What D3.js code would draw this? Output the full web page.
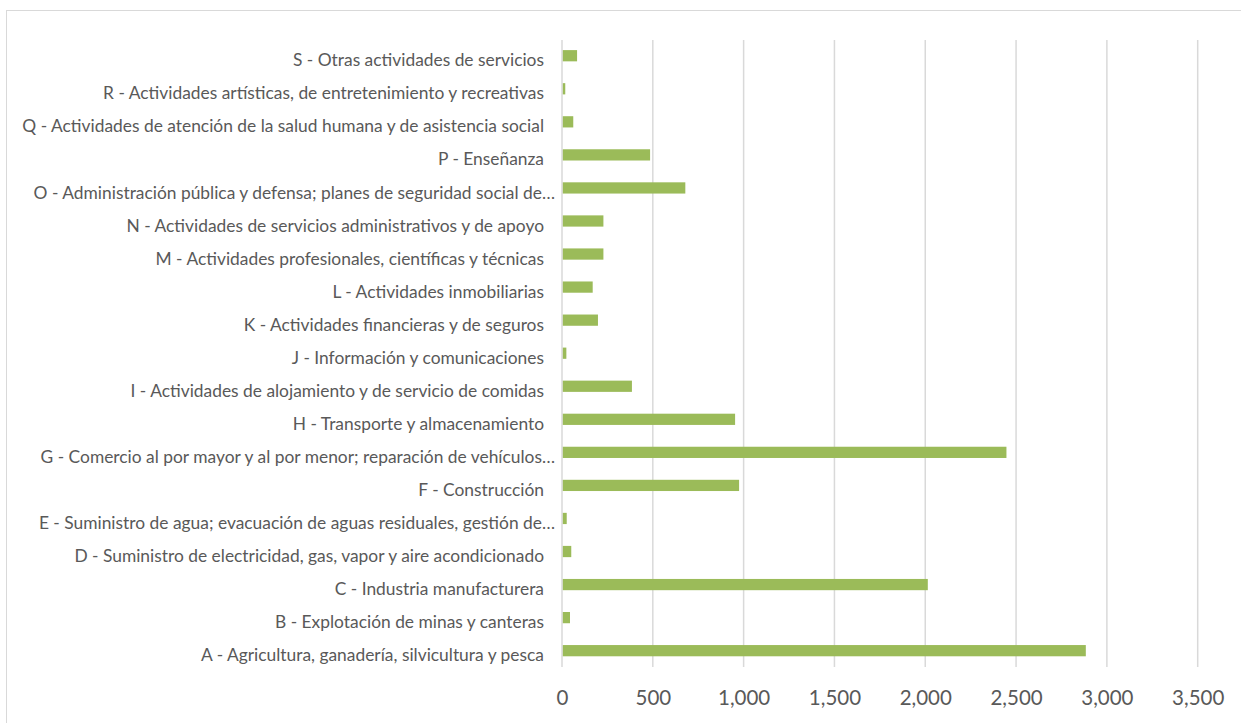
<!DOCTYPE html>
<html>
<head>
<meta charset="utf-8">
<script src="https://cdn.jsdelivr.net/npm/d3@7"></script>
<style>
  html, body { margin: 0; padding: 0; background: #fff; }
  svg { display: block; }
  text { font-family: Lato, "Open Sans", sans-serif; fill: #595959; }
</style>
</head>
<body>
<svg id="chart" width="1241" height="723"></svg>
<script>
// Categories, bottom (A) to top (S)
const categories = [
  "A - Agricultura, ganadería, silvicultura y pesca",
  "B - Explotación de minas y canteras",
  "C - Industria manufacturera",
  "D - Suministro de electricidad, gas, vapor y aire acondicionado",
  "E - Suministro de agua; evacuación de aguas residuales, gestión de…",
  "F - Construcción",
  "G - Comercio al por mayor y al por menor; reparación de vehículos…",
  "H - Transporte y almacenamiento",
  "I - Actividades de alojamiento y de servicio de comidas",
  "J - Información y comunicaciones",
  "K - Actividades financieras y de seguros",
  "L - Actividades inmobiliarias",
  "M - Actividades profesionales, científicas y técnicas",
  "N - Actividades de servicios administrativos y de apoyo",
  "O - Administración pública y defensa; planes de seguridad social de…",
  "P - Enseñanza",
  "Q - Actividades de atención de la salud humana y de asistencia social",
  "R - Actividades artísticas, de entretenimiento y recreativas",
  "S - Otras actividades de servicios"
];
const values = [2884, 44, 2014, 51, 26, 975, 2447, 953, 385, 24, 198, 169, 228, 228, 679, 485, 62, 18, 83];
const xTicks = [0, 500, 1000, 1500, 2000, 2500, 3000, 3500];

const data = categories.map((c, i) => ({ cat: c, value: values[i] }));

const svg = d3.select("#chart");

// outer chart border
svg.append("rect")
  .attr("x", 6.5).attr("y", 10.5)
  .attr("width", 1260).attr("height", 740)
  .attr("fill", "none").attr("stroke", "#d9d9d9").attr("stroke-width", 1);

const x = d3.scaleLinear().domain([0, 3500]).range([562, 1197.7]);
const y = d3.scaleBand()
  .domain(categories.slice().reverse())
  .range([39.2, 667.2])
  .paddingInner(0.66)
  .paddingOuter(0.33);

// gridlines
svg.append("g").selectAll("line")
  .data(xTicks)
  .join("line")
  .attr("x1", d => x(d)).attr("x2", d => x(d))
  .attr("y1", 40).attr("y2", 667)
  .attr("stroke", "#d9d9d9").attr("stroke-width", 1.5);

// bars
svg.append("g").selectAll("rect")
  .data(data)
  .join("rect")
  .attr("x", x(0) + 0.8)
  .attr("y", d => y(d.cat))
  .attr("width", d => x(d.value) - x(0) - 0.8)
  .attr("height", y.bandwidth())
  .attr("fill", "#9bbb59");

// x axis tick labels
const xAxis = d3.axisBottom(x).tickValues(xTicks).tickSize(0).tickPadding(0)
  .tickFormat(d3.format(","));
const gx = svg.append("g").attr("transform", "translate(0,690)").call(xAxis);
gx.select(".domain").remove();
gx.selectAll("text")
  .attr("dy", "0.32em").attr("y", 8)
  .style("font-size", "20.5px").style("fill", "#595959")
  .style("font-family", "Lato, 'Open Sans', sans-serif");

// category labels
const labelSize = 15.2;
const gy = svg.append("g");
gy.selectAll("text")
  .data(data)
  .join("text")
  .attr("x", d => d.cat.endsWith("…") ? 555 : 544)
  .attr("y", d => y(d.cat) + y.bandwidth() / 2 + 4.5)
  .attr("dy", "0.35em")
  .attr("text-anchor", "end")
  .style("font-size", labelSize + "px")
  .text(d => d.cat);

// fit label font so the A label spans ~343px
const aNode = gy.selectAll("text").filter(d => d.cat.startsWith("A -")).node();
const w = aNode.getComputedTextLength();
const fitted = labelSize * 343 / w;
gy.selectAll("text").style("font-size", fitted.toFixed(2) + "px");
</script>
</body>
</html>
